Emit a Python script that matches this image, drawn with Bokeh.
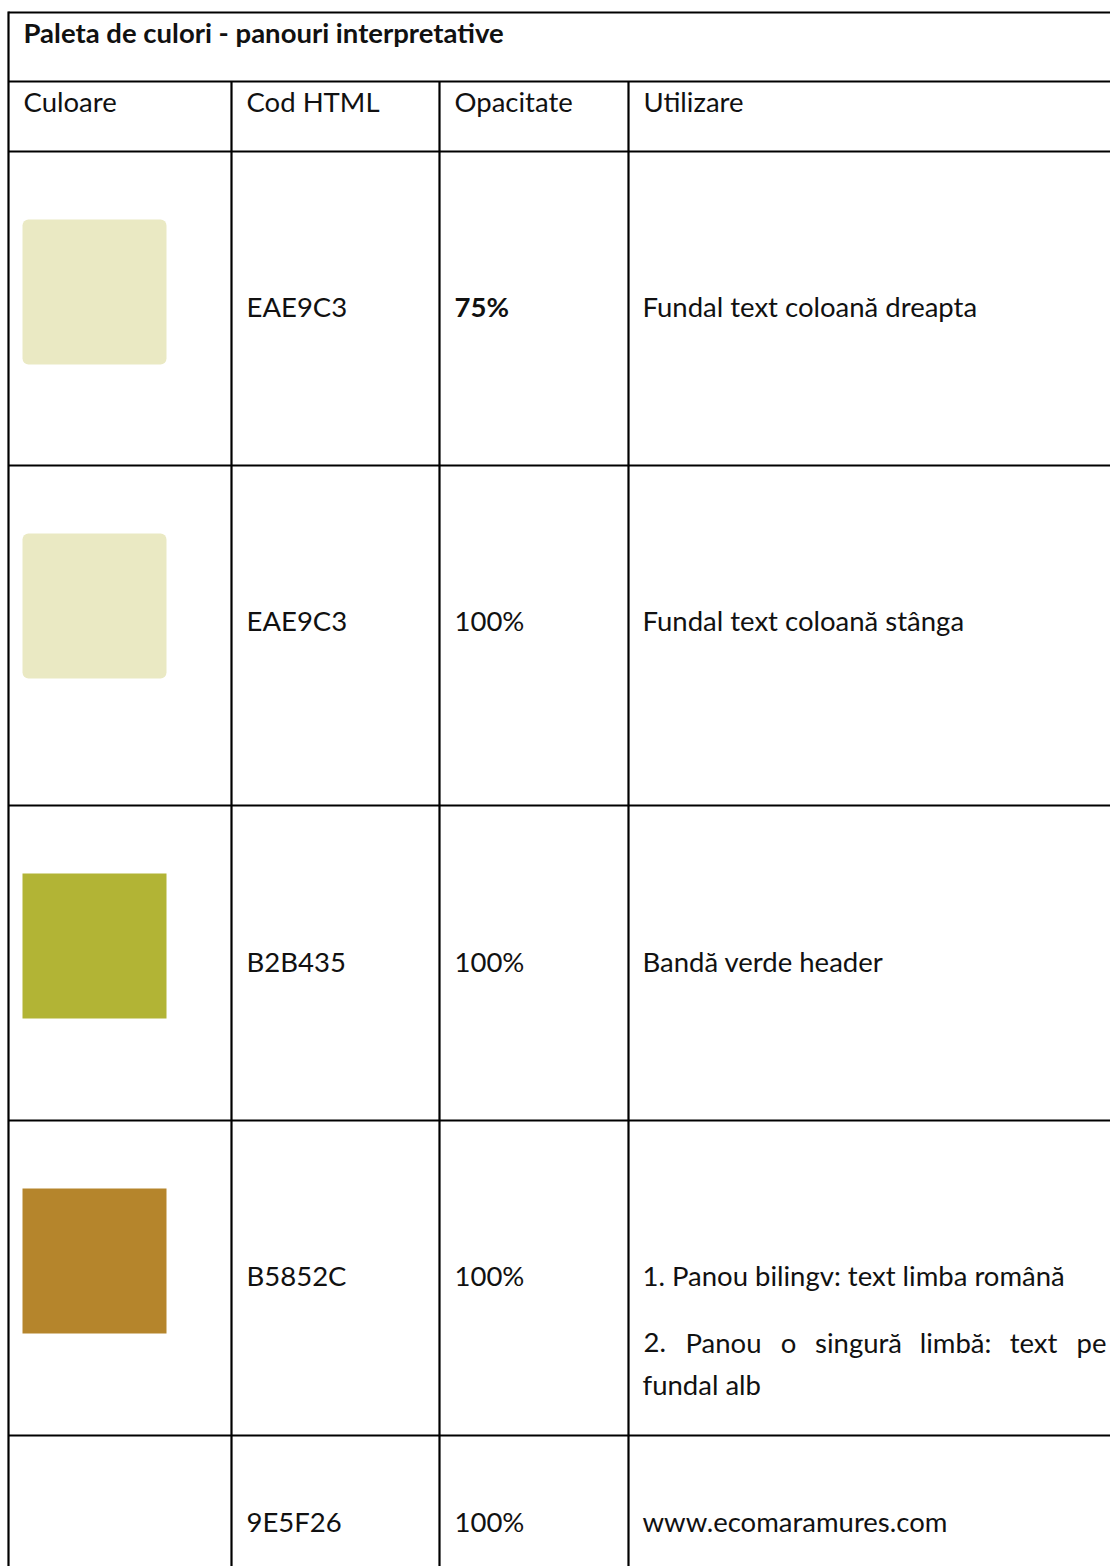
from bokeh.plotting import figure
from bokeh.models import Range1d, ColumnDataSource
from bokeh.core.properties import value
from bokeh.embed import file_html
from bokeh.resources import INLINE

# ---- data ----
title = "Paleta de culori - panouri interpretative"
headers = ["Culoare", "Cod HTML", "Opacitate", "Utilizare"]
codes = ["EAE9C3", "EAE9C3", "B2B435", "B5852C", "9E5F26"]
opacities = ["75%", "100%", "100%", "100%", "100%"]
opacity_bold = [True, False, False, False, False]
usages = [
    ["Fundal text coloană dreapta"],
    ["Fundal text coloană stânga"],
    ["Bandă verde header"],
    ["1. Panou bilingv: text limba română", None, "fundal alb"],
    ["www.ecomaramures.com"],
]
justified_words = ["2.", "Panou", "o", "singură", "limbă:", "text", "pe"]
has_swatch = [True, True, True, True, False]
rounded = [True, True, False, False, False]

# ---- layout (pixels) ----
X0, X1 = 0, 1110
Y0, Y1 = 0, 1566
top_y = 12
title_line = 81
header_line = 151
row_edges = [151, 465, 805, 1120, 1435, 1750]
col_edges = [8, 231, 439, 628]
pad = 15
FONT = "Lato"
FS = "27.5px"

p = figure(width=X1 - X0, height=Y1 - Y0, x_range=Range1d(X0, X1),
           y_range=Range1d(Y1, Y0), output_backend="svg",
           toolbar_location=None, min_border=0)
p.axis.visible = False
p.grid.visible = False
p.outline_line_color = None
p.background_fill_color = "white"
p.border_fill_color = "white"

# swatches
for i, c in enumerate(codes):
    if not has_swatch[i]:
        continue
    top = row_edges[i] + 68
    src = ColumnDataSource(dict(l=[22], r=[166], t=[top], b=[top + 145], c=["#" + c]))
    p.quad(left="l", right="r", top="t", bottom="b", fill_color="c", line_color=None,
           source=src, border_radius=6 if rounded[i] else 0)

# grid lines
lw = 2.2
hx0, hx1, hy = [], [], []
for y in [top_y, title_line, header_line] + row_edges[1:-1]:
    hx0.append(col_edges[0])
    hx1.append(X1 + 10)
    hy.append(y)
p.segment(x0=hx0, y0=hy, x1=hx1, y1=hy, line_color="black", line_width=lw)
p.segment(x0=[col_edges[0]], y0=[top_y - 1], x1=[col_edges[0]], y1=[Y1 + 10],
          line_color="black", line_width=lw)
vx = col_edges[1:]
p.segment(x0=vx, y0=[title_line] * len(vx), x1=vx, y1=[Y1 + 10] * len(vx),
          line_color="black", line_width=lw)

def txt(xs, ys, ts, bold=False, align="left"):
    p.text(x=xs, y=ys, text=ts, text_font=value(FONT), text_font_size=FS,
           text_font_style="bold" if bold else "normal", text_color="#111111",
           text_baseline="middle", text_align=align)

# title & headers
txt([23], [32], [title], bold=True)
txt([c + pad for c in col_edges], [101] * 4, headers)

# rows
ymids = [306, 620, 961, 1275, 1521]
for i in range(len(codes)):
    ymid = ymids[i]
    txt([col_edges[1] + pad], [ymid], [codes[i]])
    txt([col_edges[2] + pad], [ymid], [opacities[i]], bold=opacity_bold[i])
    lines = usages[i]
    txt([col_edges[3] + 14], [ymid], [lines[0]])
    if len(lines) > 1:
        txt([col_edges[3] + 14], [ymid + 109], [lines[2]])

# justified line: first word left-aligned, last right-aligned, middle words centred
jy = 1342
txt([643], [jy], [justified_words[0]], align="left")
mid_x = [723, 788, 858, 955, 1033]
txt(mid_x, [jy] * len(mid_x), justified_words[1:-1], align="center")
txt([1106], [jy], [justified_words[-1]], align="right")

open("out.html", "w").write(file_html(p, INLINE))
